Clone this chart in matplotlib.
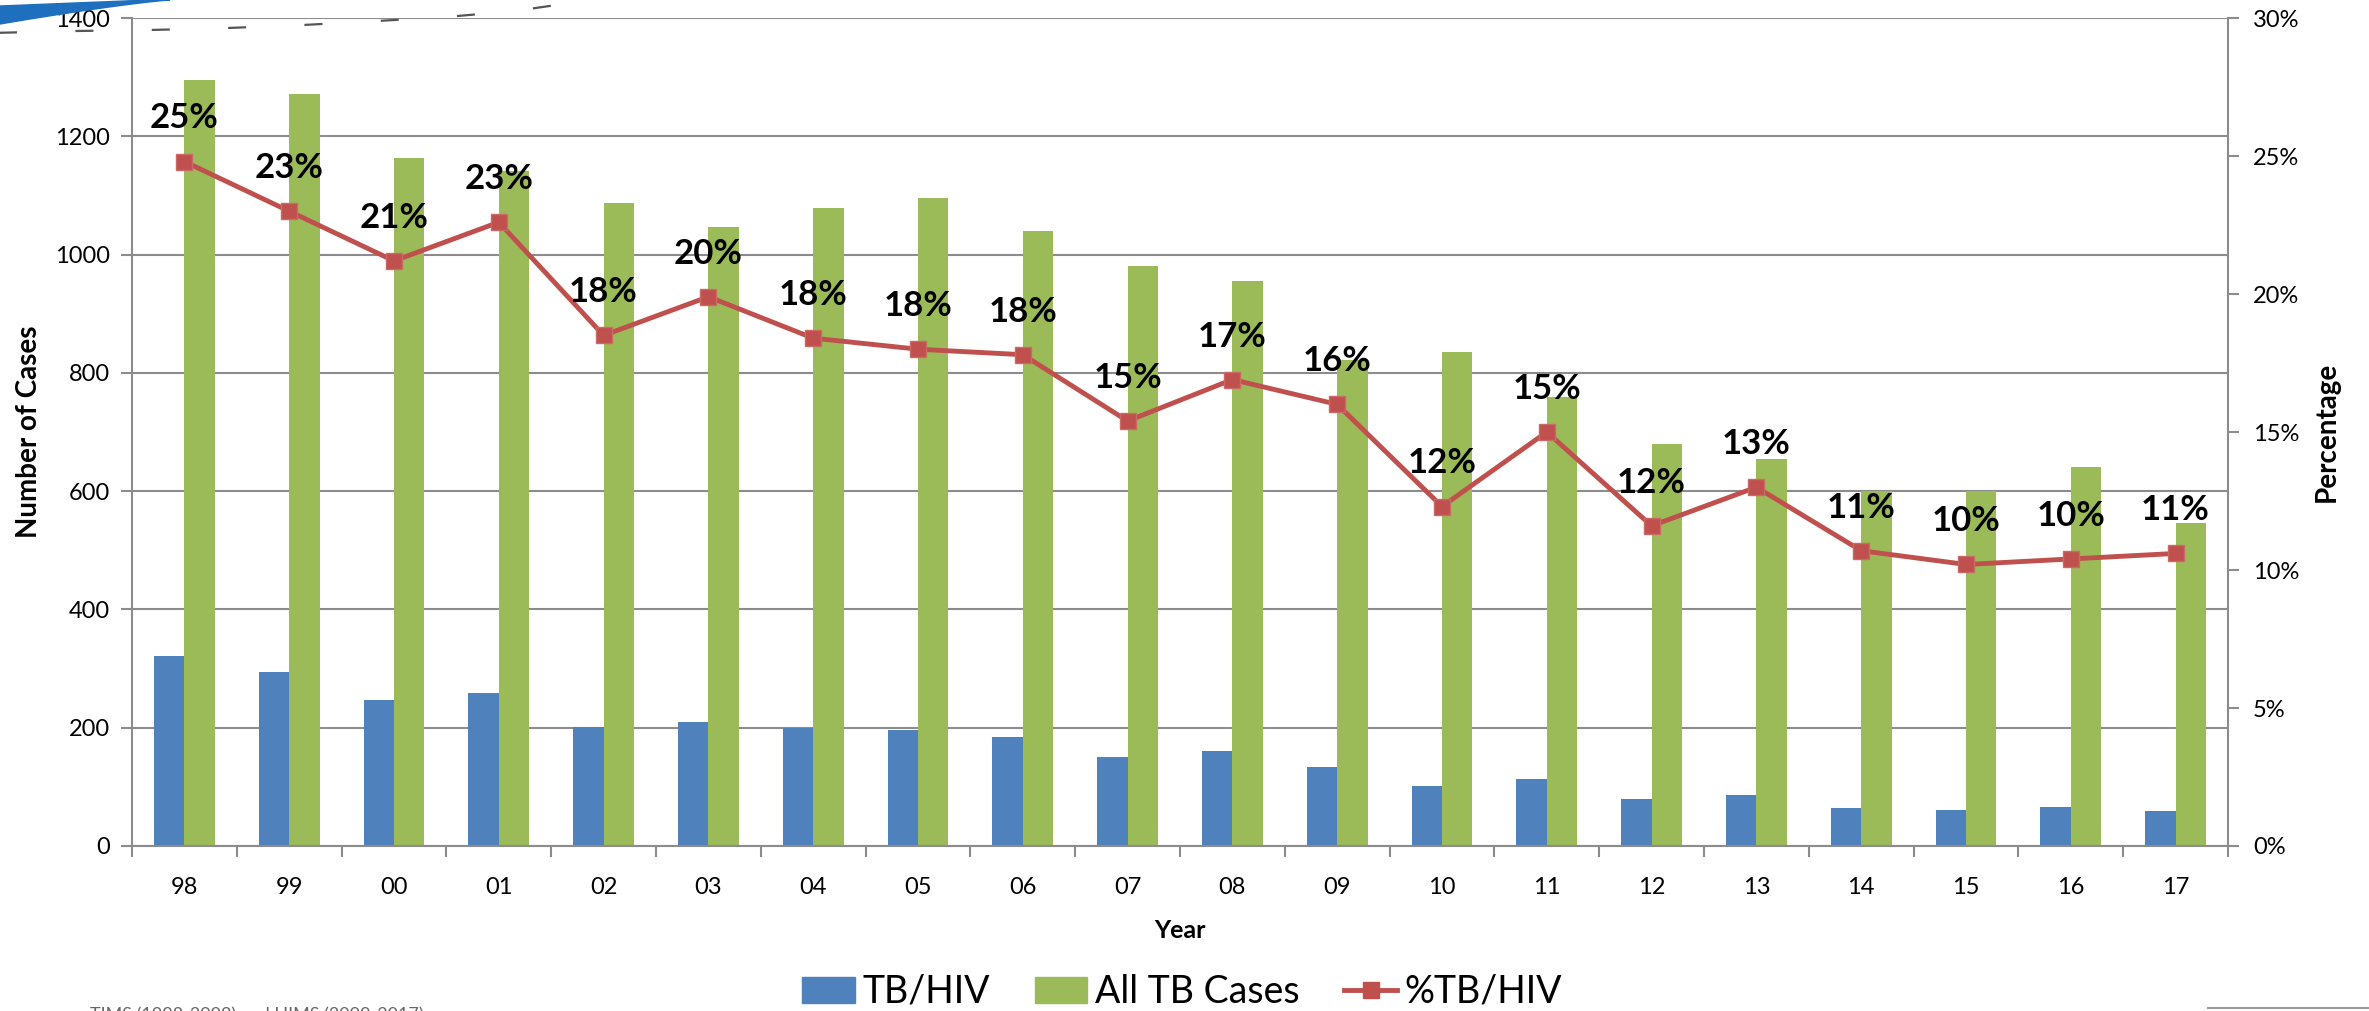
import numpy as np
import matplotlib.pyplot as plt
from matplotlib.patches import Patch, Polygon
from matplotlib.lines import Line2D
from matplotlib.ticker import MultipleLocator, FuncFormatter

plt.rcParams['font.family'] = ['Lato', 'DejaVu Sans']
plt.rcParams['lines.scale_dashes'] = False

# data
years = ['98', '99', '00', '01', '02', '03', '04', '05', '06', '07',
         '08', '09', '10', '11', '12', '13', '14', '15', '16', '17']
tb_hiv = [321, 294, 247, 258, 201, 209, 199, 196, 184, 150,
          161, 133, 102, 114, 79, 86, 64, 61, 66, 59]
all_tb = [1295, 1272, 1163, 1142, 1087, 1047, 1078, 1096, 1040, 981,
          955, 822, 835, 759, 680, 654, 600, 600, 641, 546]
pct_tb_hiv = [24.8, 23.0, 21.2, 22.6, 18.5, 19.9, 18.4, 18.0, 17.8, 15.4,
              16.9, 16.0, 12.3, 15.0, 11.6, 13.0, 10.7, 10.2, 10.4, 10.6]
pct_labels = ['25%', '23%', '21%', '23%', '18%', '20%', '18%', '18%', '18%', '15%',
              '17%', '16%', '12%', '15%', '12%', '13%', '11%', '10%', '10%', '11%']

blue = '#4F81BD'
green = '#9BBB59'
red = '#C0504D'
grey = '#8C8C8C'

W, H = 2369, 1011
fig = plt.figure(figsize=(W / 100, H / 100), dpi=100)
ax = fig.add_axes([132 / W, 1 - 846 / H, (2228 - 132) / W, (846 - 18) / H])

x = np.arange(len(years))
bw = 0.29
ax.bar(x - bw / 2, tb_hiv, bw, color=blue, zorder=2)
ax.bar(x + bw / 2, all_tb, bw, color=green, zorder=2)

ax.set_xlim(-0.5, len(years) - 0.5)
ax.set_ylim(0, 1400)
ax.yaxis.set_major_locator(MultipleLocator(200))
ax.grid(axis='y', color=grey, linewidth=1.5, zorder=0)
ax.set_axisbelow(True)
ax.set_xticks(x)
ax.set_xticklabels(years)
ax.set_xticks(np.arange(-0.5, len(years), 1), minor=True)
ax.tick_params(axis='x', which='major', length=0, labelsize=17, pad=22)
ax.tick_params(axis='x', which='minor', length=8, width=1.5, color=grey)
ax.tick_params(axis='y', length=8, width=1.5, color=grey, labelsize=17, pad=8)
for s in ['left', 'bottom', 'right']:
    ax.spines[s].set_color(grey)
    ax.spines[s].set_linewidth(1.5)
ax.spines['top'].set_visible(False)

ax.set_xlabel('Year', fontsize=18, fontweight='bold')
ax.xaxis.set_label_coords(0.5, -0.088)
ax.set_ylabel('Number of Cases', fontsize=20, fontweight='bold')
ax.yaxis.set_label_coords(-0.043, 0.5)

ax2 = ax.twinx()
ax2.set_ylim(0, 30)
ax2.yaxis.set_major_locator(MultipleLocator(5))
ax2.yaxis.set_major_formatter(FuncFormatter(lambda v, p: '%d%%' % v))
ax2.tick_params(axis='y', length=8, width=1.5, color=grey, labelsize=17, pad=10)
for s in ax2.spines.values():
    s.set_visible(False)
ax2.plot(x, pct_tb_hiv, color=red, linewidth=3.5, marker='s', markersize=12,
         markerfacecolor=red, markeredgecolor='#C96A67', markeredgewidth=1, zorder=3)
for xi, v, lab in zip(x, pct_tb_hiv, pct_labels):
    ax2.annotate(lab, (xi, v), xytext=(0, 31), textcoords='offset points',
                 ha='center', va='center', fontsize=25, fontweight='bold')
ax2.set_ylabel('Percentage', fontsize=20, fontweight='bold')
ax2.yaxis.set_label_coords(1.041, 0.5)

handles = [Patch(color=blue), Patch(color=green),
           Line2D([], [], color=red, linewidth=3.5, marker='s', markersize=12)]
fig.legend(handles, ['TB/HIV', 'All TB Cases', '%TB/HIV'], loc='center',
           bbox_to_anchor=(0.499, 0.019), ncol=3, frameon=False, fontsize=27,
           handlelength=1.4, handletextpad=0.2, columnspacing=1.2)

# slide decorations around the chart
tr = fig.transFigure
sx = np.linspace(0, 170, 40)
top_edge = np.clip(6 - sx * 0.04, 0, None)
low_edge = 24 * (1 - sx / 170) ** 1.2
pts = np.column_stack([np.r_[sx, sx[::-1]], np.r_[top_edge, low_edge[::-1]]])
pts = np.column_stack([pts[:, 0] / W, 1 - pts[:, 1] / H])
fig.patches.append(Polygon(pts, closed=True, color='#1F6FBF', transform=tr))
arc_x = np.array([-10, 76, 150, 228, 303, 377, 446, 515, 577, 600])
arc_y = np.array([33, 31, 30, 28, 25, 21, 17, 11, 2, -1])
fig.lines.append(Line2D(arc_x / W, 1 - arc_y / H, transform=tr, color='#555555',
                        linewidth=1.6, dashes=(13, 42)))
fig.lines.append(Line2D([2208 / W, 1.0], [3 / H, 3 / H], transform=tr,
                        color='#999999', linewidth=1.5))
fig.text(90 / W, 4 / H, 'TIMS (1998-2008) and HIMS (2009-2017)', fontsize=13,
         color='#666666', va='top', ha='left')

fig.savefig('out.png', dpi=100)
